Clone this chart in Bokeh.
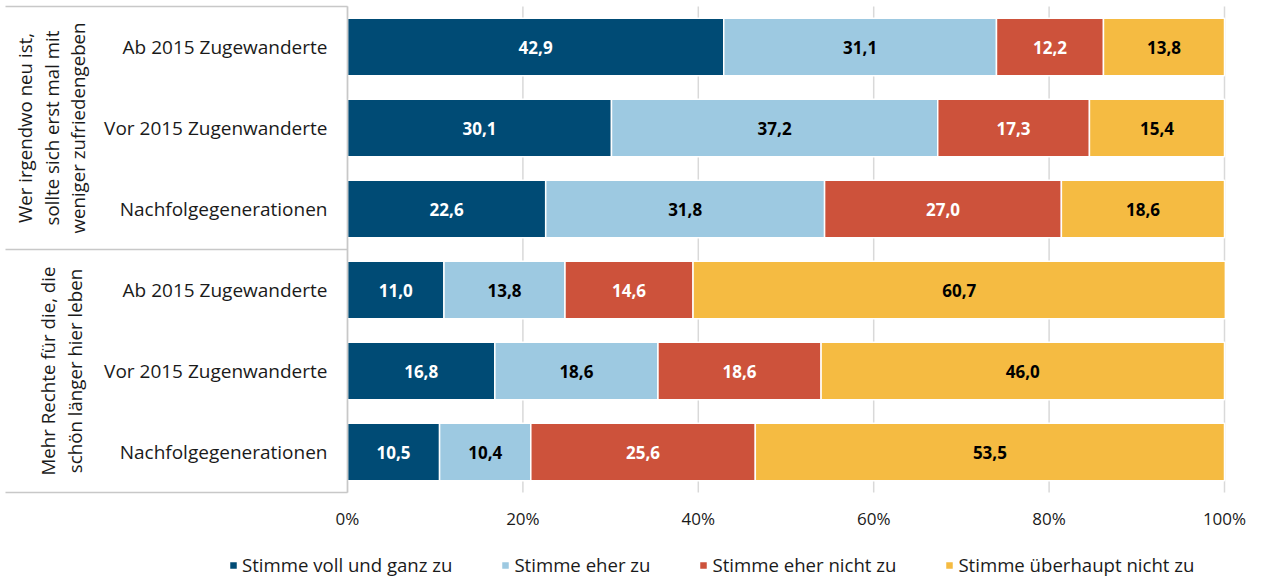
from bokeh.plotting import figure
from bokeh.models import Range1d, FixedTicker, Legend, LegendItem
from bokeh.core.properties import value
from bokeh.embed import file_html
from bokeh.resources import INLINE
import math

# ---------------- data ----------------
categories = ["Ab 2015 Zugewanderte", "Vor 2015 Zugenwanderte", "Nachfolgegenerationen",
              "Ab 2015 Zugewanderte", "Vor 2015 Zugenwanderte", "Nachfolgegenerationen"]
group1_lines = ["Wer irgendwo neu ist,", "sollte sich erst mal mit", "weniger zufriedengeben"]
group2_lines = ["Mehr Rechte für die, die", "schön länger hier leben"]
series_names = ["Stimme voll und ganz zu", "Stimme eher zu", "Stimme eher nicht zu", "Stimme überhaupt nicht zu"]
voll_und_ganz = [42.9, 30.1, 22.6, 11.0, 16.8, 10.5]
eher_zu = [31.1, 37.2, 31.8, 13.8, 18.6, 10.4]
eher_nicht = [12.2, 17.3, 27.0, 14.6, 18.6, 25.6]
ueberhaupt_nicht = [13.8, 15.4, 18.6, 60.7, 46.0, 53.5]
x_ticks = [0, 20, 40, 60, 80, 100]
x_tick_labels = ["0%", "20%", "40%", "60%", "80%", "100%"]

colors = ["#004B75", "#9DC9E1", "#CD523B", "#F5BB42"]
text_colors = ["white", "black", "white", "black"]
FONT = "Open Sans"

# ---------------- layout ----------------
W, H = 1248, 578
zero_px = 347          # screen x of 0 %
px_per_unit = 8.77     # pixels per percent
row_px = 81            # pixels per row
top_px = 6             # screen y of the top rule
x_start = -zero_px / px_per_unit
x_end = (W - zero_px) / px_per_unit
y_top = -top_px / row_px
y_bottom = y_top + H / row_px

p = figure(frame_width=W, frame_height=H, output_backend="svg", toolbar_location=None,
           x_range=Range1d(x_start, x_end), y_range=Range1d(y_bottom, y_top),
           y_axis_location=None, min_border_left=0, min_border_right=0,
           min_border_top=0, min_border_bottom=0, outline_line_color=None)

rows = [i + 0.5 for i in range(len(categories))]
n_rows = len(rows)
series = [voll_und_ganz, eher_zu, eher_nicht, ueberhaupt_nicht]

# grid lines (only across the bar area)
p.segment(x0=x_ticks, y0=[0] * len(x_ticks), x1=x_ticks, y1=[n_rows] * len(x_ticks),
          line_color="#D9D9D9", line_width=1.5)

renderers = []
left = [0.0] * n_rows
for vals, col, tcol in zip(series, colors, text_colors):
    right = [l + v for l, v in zip(left, vals)]
    r = p.hbar(y=rows, left=left, right=right, height=0.71, fill_color=col,
               line_color="white", line_width=1.5)
    renderers.append(r)
    mids = [(l + rr) / 2 for l, rr in zip(left, right)]
    p.text(x=mids, y=rows, text=[f"{v:.1f}".replace(".", ",") for v in vals],
           text_align="center", text_baseline="middle", text_color=tcol,
           text_font=value(FONT), text_font_style="bold", text_font_size="17px")
    left = right

# category labels
p.text(x=[-20 / px_per_unit] * n_rows, y=rows, text=categories, text_align="right",
       text_baseline="middle", text_color="#1a1a1a", text_font=value(FONT), text_font_size="19px")

# group labels (rotated)
g1_x = [(24 - zero_px) / px_per_unit, (51 - zero_px) / px_per_unit, (77 - zero_px) / px_per_unit]
g2_x = [(47 - zero_px) / px_per_unit, (74 - zero_px) / px_per_unit]
p.text(x=g1_x, y=[1.5] * 3, text=group1_lines, angle=math.pi / 2, text_align="center",
       text_baseline="middle", text_color="#1a1a1a", text_font=value(FONT), text_font_size="18.7px")
p.text(x=g2_x, y=[4.5] * 2, text=group2_lines, angle=math.pi / 2, text_align="center",
       text_baseline="middle", text_color="#1a1a1a", text_font=value(FONT), text_font_size="18.7px")

# table lines
rule_x0 = (5 - zero_px) / px_per_unit
p.segment(x0=[rule_x0] * 3, y0=[0, 3, n_rows], x1=[0] * 3, y1=[0, 3, n_rows],
          line_color="#C8C8C8", line_width=1.5)
p.segment(x0=[0], y0=[0], x1=[0], y1=[n_rows], line_color="#C8C8C8", line_width=1.5)

# axis
p.xaxis.fixed_location = n_rows
p.xaxis.ticker = FixedTicker(ticks=x_ticks)
p.xaxis.major_label_overrides = {t: l for t, l in zip(x_ticks, x_tick_labels)}
p.xaxis.axis_line_color = None
p.xaxis.major_tick_line_color = None
p.xaxis.minor_tick_line_color = None
p.xaxis.major_label_standoff = 8
p.xaxis.major_label_text_font = FONT
p.xaxis.major_label_text_font_size = "17px"
p.xaxis.major_label_text_color = "#1a1a1a"
p.xgrid.visible = False
p.ygrid.visible = False

legend = Legend(items=[LegendItem(label=n, renderers=[r]) for n, r in zip(series_names, renderers)],
                orientation="horizontal", location=(228, 1), padding=0, margin=0, spacing=48,
                glyph_width=10, glyph_height=10, label_standoff=4, label_height=20,
                label_text_font=FONT, label_text_font_size="18.6px", label_text_color="#1a1a1a",
                border_line_color=None, background_fill_alpha=0)
p.add_layout(legend, "center")

open("out.html", "w").write(file_html(p, INLINE))
